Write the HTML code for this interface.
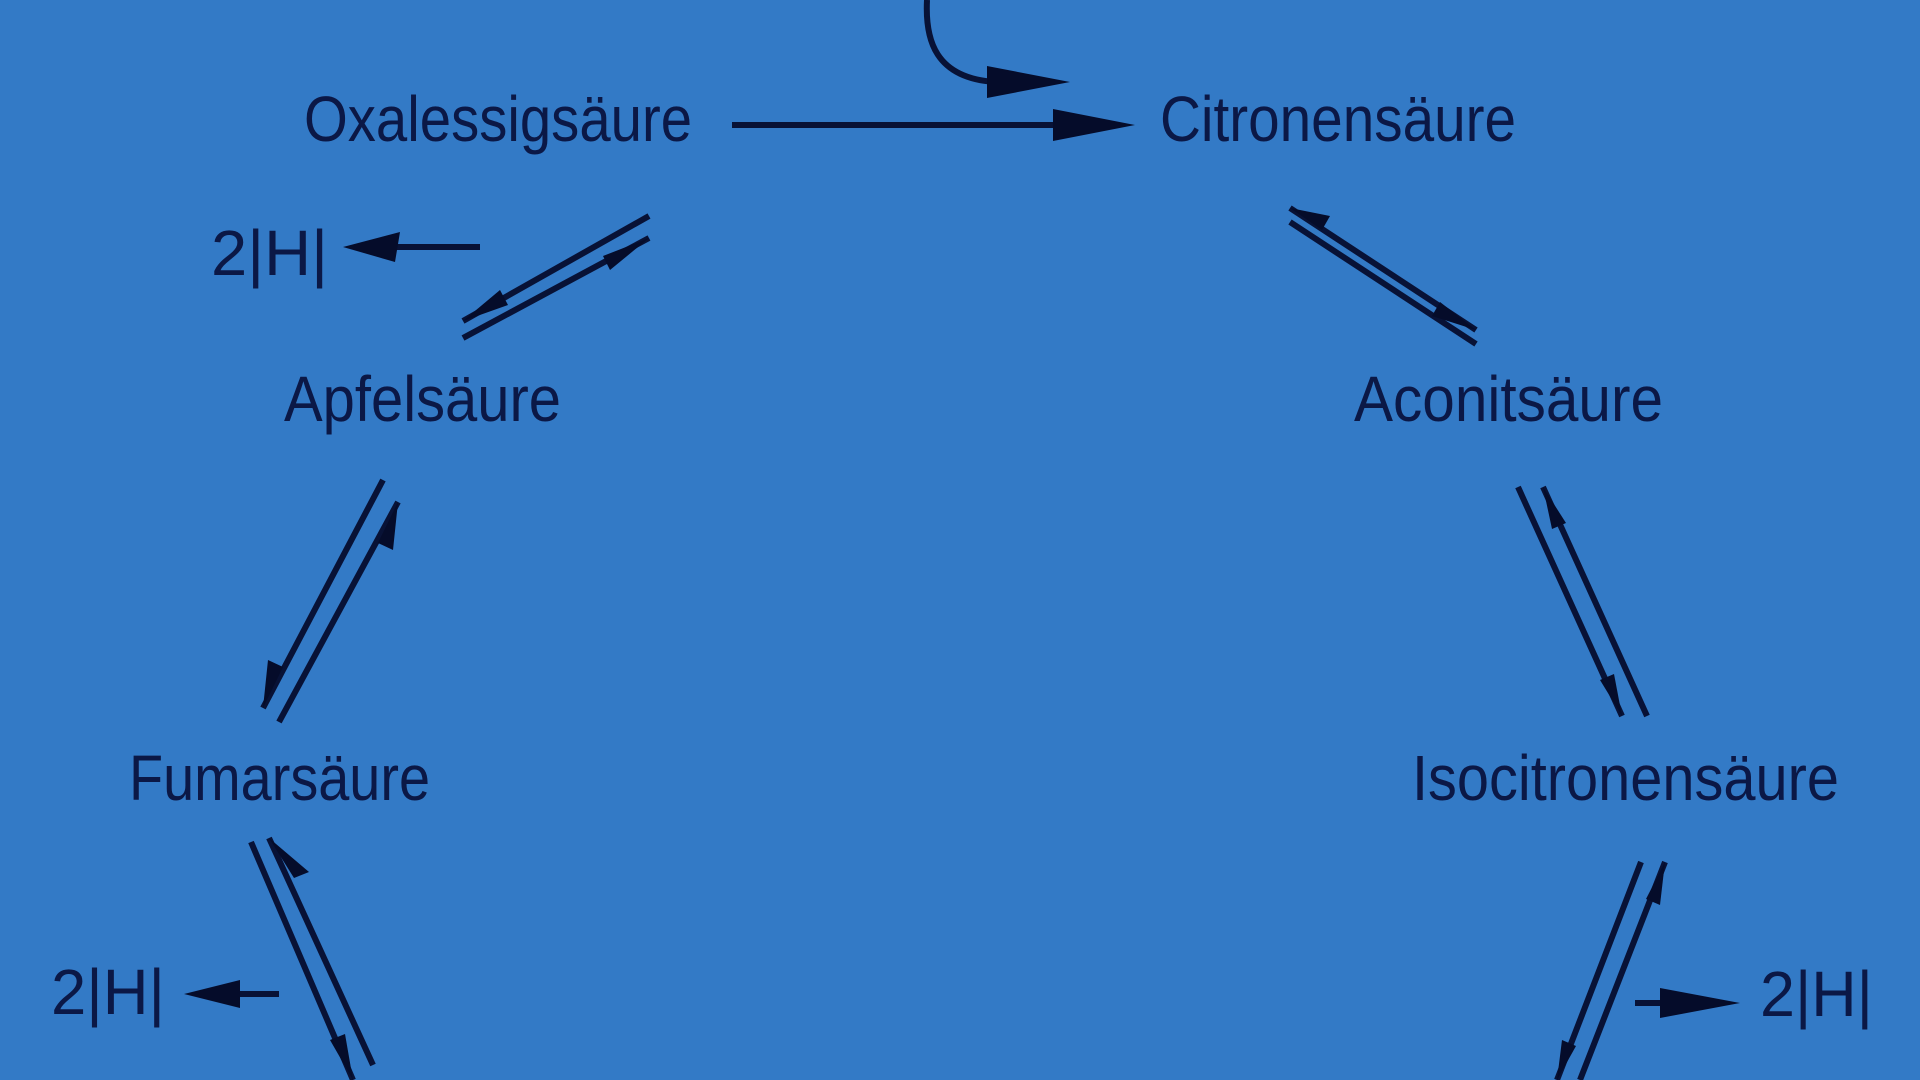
<!DOCTYPE html>
<html><head><meta charset="utf-8"><style>
html,body{margin:0;padding:0;background:#337ac6;}
svg{display:block}
text{font-family:"Liberation Sans",sans-serif;font-size:64px;fill:#0b1846;}
</style></head><body>
<svg width="1920" height="1080" viewBox="0 0 1920 1080" xmlns="http://www.w3.org/2000/svg">
<rect width="1920" height="1080" fill="#337ac6"/>
<g>
<text x="304" y="141" textLength="388" lengthAdjust="spacingAndGlyphs">Oxalessigsäure</text>
<text x="1160" y="141" textLength="356" lengthAdjust="spacingAndGlyphs">Citronensäure</text>
<text x="1354" y="421" textLength="309" lengthAdjust="spacingAndGlyphs">Aconitsäure</text>
<text x="284" y="421" textLength="277" lengthAdjust="spacingAndGlyphs">Apfelsäure</text>
<text x="129" y="800" textLength="301" lengthAdjust="spacingAndGlyphs">Fumarsäure</text>
<text x="1412" y="800" textLength="427" lengthAdjust="spacingAndGlyphs">Isocitronensäure</text>
<text x="211" y="275" textLength="117" lengthAdjust="spacingAndGlyphs">2|H|</text>
<text x="51" y="1014" textLength="114" lengthAdjust="spacingAndGlyphs">2|H|</text>
<text x="1760" y="1016" textLength="113" lengthAdjust="spacingAndGlyphs">2|H|</text>
</g>
<g stroke="#081236" stroke-width="6" fill="none" stroke-linecap="butt">
<line x1="732" y1="125" x2="1070" y2="125"/>
<path d="M927 0 C925 40 935 78 995 82"/>
<line x1="480" y1="247" x2="380" y2="247"/>
<line x1="649" y1="216" x2="463" y2="321"/>
<line x1="649" y1="238" x2="463" y2="338"/>
<line x1="1290" y1="208" x2="1476" y2="330"/>
<line x1="1290" y1="222" x2="1476" y2="344"/>
<line x1="383" y1="480" x2="263" y2="708"/>
<line x1="398" y1="502" x2="279" y2="722"/>
<line x1="1518" y1="487" x2="1622" y2="716"/>
<line x1="1543" y1="487" x2="1647" y2="716"/>
<line x1="251" y1="842" x2="353" y2="1080"/>
<line x1="269" y1="838" x2="373" y2="1065"/>
<line x1="279" y1="994" x2="240" y2="994"/>
<line x1="1641" y1="862" x2="1557" y2="1080"/>
<line x1="1665" y1="862" x2="1580" y2="1080"/>
<line x1="1635" y1="1003" x2="1690" y2="1003"/>
</g>
<g fill="#050c2a">
<polygon points="1053,109 1135,125 1053,141"/>
<polygon points="987,66 1070,82 987,98"/>
<polygon points="343,247 400,232 395,262"/>
<polygon points="184,994 240,980 240,1008"/>
<polygon points="1740,1003 1660,988 1660,1018"/>
<!-- half arrowheads -->
<polygon points="463,321 500,290 508,305"/>
<polygon points="649,238 610,270 603,256"/>
<polygon points="1476,330 1432,316 1440,302"/>
<polygon points="1290,208 1330,216 1322,230"/>
<polygon points="263,708 268,660 283,667"/>
<polygon points="398,502 393,550 378,543"/>
<polygon points="1622,716 1600,680 1614,674"/>
<polygon points="1543,487 1566,523 1552,529"/>
<polygon points="353,1080 330,1040 345,1034"/>
<polygon points="269,838 294,878 309,872"/>
<polygon points="1557,1080 1562,1040 1576,1046"/>
<polygon points="1665,862 1660,905 1646,899"/>
</g>
</svg>
</body></html>
